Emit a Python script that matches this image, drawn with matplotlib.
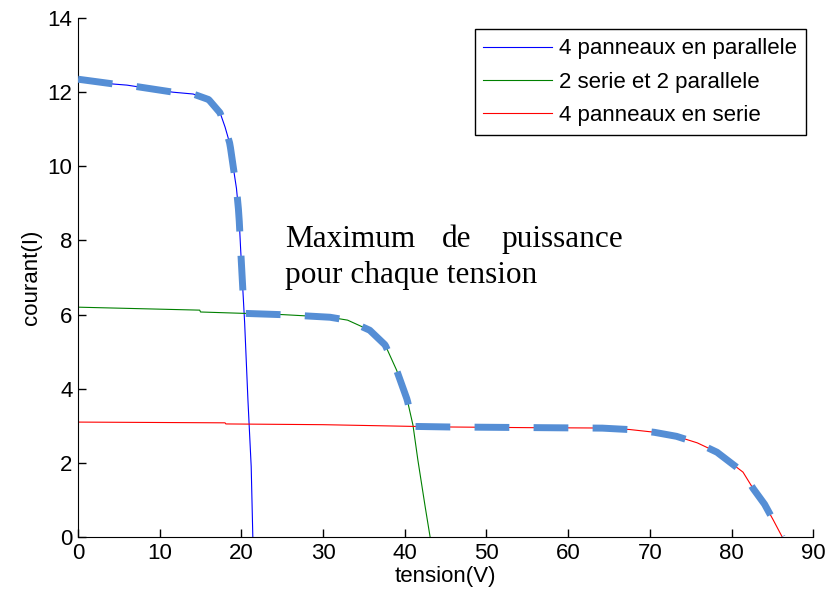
import numpy as np
import matplotlib
matplotlib.use("Agg")
import matplotlib.pyplot as plt

# courbes I(V)
v_par = [0, 4.3, 6, 11.6, 14.1, 16, 17.4, 18, 18.6, 19, 19.4, 19.7, 19.9, 20.2, 20.4, 20.8, 21.2, 21.4]
i_par = [12.35, 12.22, 12.19, 12.0, 11.95, 11.8, 11.44, 11.06, 10.6, 9.98, 9.4, 8.7, 7.8, 6.58, 5.77, 3.7, 1.9, 0]

v_mix = [0, 14.9, 15, 25, 30.8, 33, 35.7, 37.6, 39.0, 40.3, 41.0, 41.6, 42.5, 43.1]
i_mix = [6.2, 6.12, 6.07, 6.0, 5.93, 5.85, 5.58, 5.18, 4.5, 3.7, 3.02, 2.08, 0.81, 0]

v_ser = [0, 18, 18.1, 30, 44.3, 55, 63.9, 67.5, 70.4, 73.2, 75.8, 78.2, 81.4, 82.6, 84.0, 85.1, 86.2]
i_ser = [3.1, 3.08, 3.05, 3.03, 2.97, 2.95, 2.94, 2.9, 2.83, 2.72, 2.54, 2.29, 1.75, 1.32, 0.9, 0.46, 0]

labels = ["4 panneaux en parallele", "2 serie et 2 parallele", "4 panneaux en serie"]

plt.rcParams['font.family'] = ['Liberation Sans', 'DejaVu Sans']

fig = plt.figure(figsize=(8.28, 5.97), dpi=100)
ax = fig.add_axes([0.0942, 0.1005, 0.888, 0.8693])

ax.plot(v_par, i_par, color=(0, 0, 1), lw=0.8, label=labels[0])
ax.plot(v_mix, i_mix, color=(0, 0.5, 0), lw=0.8, label=labels[1])
ax.plot(v_ser, i_ser, color=(1, 0, 0), lw=0.8, label=labels[2])

# enveloppe = maximum de puissance pour chaque tension
vv = np.linspace(0, max(v_ser), 800)
env = np.max([np.interp(vv, v_par, i_par, right=0),
              np.interp(vv, v_mix, i_mix, right=0),
              np.interp(vv, v_ser, i_ser, right=0)], axis=0)
ax.plot(vv, env, color='#558ED5', lw=5, linestyle=(0, (5, 3.5)),
        dash_capstyle='butt', zorder=3)

ax.set_xlim(0, 90)
ax.set_ylim(0, 14)
ax.set_xticks(range(0, 91, 10))
ax.set_yticks(range(0, 15, 2))
ax.tick_params(direction='in', labelsize=16, length=6, width=1, pad=4)
ax.spines['top'].set_visible(False)
ax.spines['right'].set_visible(False)
ax.set_xlabel("tension(V)", fontsize=16, labelpad=2)
ax.set_ylabel("courant(I)", fontsize=16, labelpad=4)

leg = ax.legend(loc='upper right', bbox_to_anchor=(0.99, 0.978), fontsize=16,
                fancybox=False, framealpha=1, edgecolor='black',
                handlelength=3.1, handletextpad=0.3, borderaxespad=0,
                borderpad=0.4, labelspacing=0.55)
leg.get_frame().set_linewidth(1)

serif = dict(family='Liberation Serif', fontsize=22.5)
ax.text(25.3, 7.82, "Maximum", ha='left', va='baseline', **serif)
ax.text(46.4, 7.82, "de", ha='center', va='baseline', **serif)
ax.text(66.7, 7.82, "puissance", ha='right', va='baseline', **serif)
ax.text(25.3, 6.85, "pour chaque tension", ha='left', va='baseline', **serif)

fig.savefig("out.png", dpi=100)
